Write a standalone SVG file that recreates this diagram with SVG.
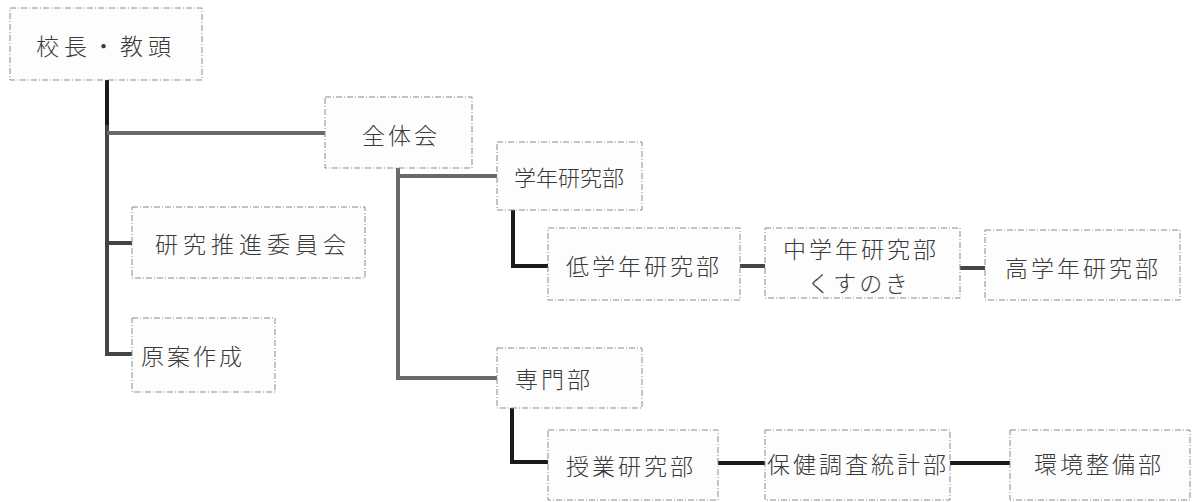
<svg xmlns="http://www.w3.org/2000/svg" width="1197" height="502" viewBox="0 0 1197 502">
<style>
.box{fill:#fdfdfd;stroke:#8a8a8a;stroke-width:1;stroke-dasharray:6 2 1 2}
.t{font-family:"Noto Sans CJK JP","Noto Sans CJK SC",sans-serif;font-weight:300;font-size:23px;fill:#3a3a3a;letter-spacing:3px;text-anchor:middle;dominant-baseline:central}
.w{letter-spacing:5px}
.n{letter-spacing:0px;font-size:22px}
.c{fill:none;stroke:#444;stroke-width:4}
.cd{fill:none;stroke:#1a1a1a;stroke-width:4}
.cg{fill:none;stroke:#6a6a6a;stroke-width:4}
</style>
<rect width="1197" height="502" fill="#ffffff"/>
<g id="connectors">
<path class="cd" d="M107 80 V125"/>
<path class="c" d="M107 125 V354 H132"/>
<path class="cg" d="M107 133 H327"/>
<path class="c" d="M107 243 H132"/>
<path class="cg" d="M398 168 V378 H497"/>
<path class="cg" d="M398 176 H497"/>
<path class="cd" d="M513 210 V266 H548"/>
<path class="c" d="M740 266 H765"/>
<path class="c" d="M960 268 H985"/>
<path class="cd" d="M512 408 V462 H548"/>
<path class="cd" d="M718 463 H765"/>
<path class="cd" d="M950 463 H1010"/>
</g>
<g id="n1"><rect class="box" x="10" y="8" width="192" height="72"/><text class="t w" x="106" y="45">校長・教頭</text></g>
<g id="n2"><rect class="box" x="325" y="97" width="147" height="71"/><text class="t" x="401" y="134">全体会</text></g>
<g id="n3"><rect class="box" x="132" y="207" width="233" height="71"/><text class="t w" x="253" y="243">研究推進委員会</text></g>
<g id="n4"><rect class="box" x="132" y="318" width="143" height="74"/><text class="t" x="193" y="355">原案作成</text></g>
<g id="n5"><rect class="box" x="497" y="142" width="145" height="68"/><text class="t n" x="569" y="176">学年研究部</text></g>
<g id="n6"><rect class="box" x="548" y="228" width="192" height="72"/><text class="t" x="644" y="265">低学年研究部</text></g>
<g id="n7"><rect class="box" x="765" y="228" width="195" height="70"/><text class="t" x="861" y="248">中学年研究部</text><text class="t" x="859" y="282">くすのき</text></g>
<g id="n8"><rect class="box" x="985" y="230" width="195" height="70"/><text class="t" x="1083" y="267">高学年研究部</text></g>
<g id="n9"><rect class="box" x="497" y="348" width="145" height="60"/><text class="t" x="554" y="378">専門部</text></g>
<g id="n10"><rect class="box" x="548" y="430" width="170" height="70"/><text class="t" x="631" y="465">授業研究部</text></g>
<g id="n11"><rect class="box" x="765" y="430" width="185" height="70"/><text class="t" x="858" y="463">保健調査統計部</text></g>
<g id="n12"><rect class="box" x="1010" y="430" width="180" height="70"/><text class="t" x="1099" y="463">環境整備部</text></g>
</svg>
